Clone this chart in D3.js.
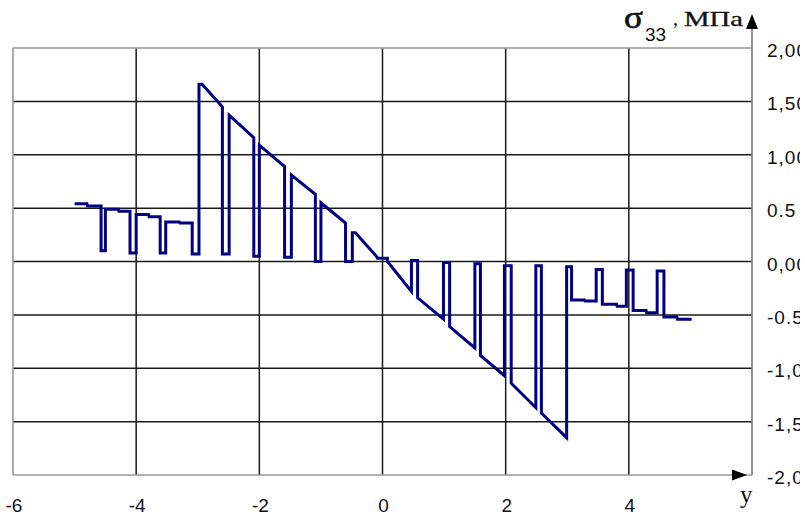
<!DOCTYPE html>
<html>
<head>
<meta charset="utf-8">
<script src="https://cdn.jsdelivr.net/npm/d3@7"></script>
<style>
  html, body { margin: 0; padding: 0; background: #fff; }
  svg { display: block; }
</style>
</head>
<body>
<svg id="chart" width="805" height="516"></svg>
<script>
// ---- data ----
const xTicks = [-6, -4, -2, 0, 2, 4];
const xTickLabels = ["-6", "-4", "-2", "0", "2", "4"];
const yTicks = [2, 1.5, 1, 0.5, 0, -0.5, -1, -1.5, -2];
const yTickLabels = ["2,00", "1,50", "1,00", "0.5", "0,00", "-0.5", "-1,00", "-1,50", "-2,00"];

const yCoord = [
  -5.00, -4.80, -4.79, -4.57,
  -4.57, -4.50, -4.50, -4.29, -4.28, -4.10,
  -4.10, -4.00, -4.00, -3.80, -3.79, -3.61,
  -3.61, -3.52, -3.52, -3.30, -3.29, -3.09,
  -3.09, -2.98, -2.98, -2.93, -2.60,
  -2.60, -2.49, -2.49, -2.09,
  -2.09, -2.00, -2.00, -1.59,
  -1.59, -1.48, -1.48, -1.09,
  -1.09, -1.00, -1.00, -0.60,
  -0.60, -0.49, -0.49, -0.44, -0.10,
  -0.08, 0.08, 0.08, 0.47,
  0.47, 0.57, 0.57, 0.99,
  0.99, 1.09, 1.09, 1.50,
  1.50, 1.59, 1.59, 1.98,
  1.98, 2.09, 2.09, 2.49,
  2.49, 2.58, 2.58, 2.99,
  2.99, 3.07, 3.07, 3.28, 3.29, 3.47,
  3.47, 3.57, 3.57, 3.80, 3.81, 3.96,
  3.96, 4.07, 4.07, 4.28, 4.29, 4.46,
  4.46, 4.57, 4.57, 4.78, 4.79, 5.02
];
const sigma33 = [
  0.54, 0.54, 0.52, 0.52,
  0.10, 0.10, 0.49, 0.49, 0.47, 0.47,
  0.08, 0.08, 0.44, 0.44, 0.42, 0.42,
  0.08, 0.08, 0.37, 0.37, 0.36, 0.36,
  0.07, 0.07, 1.66, 1.66, 1.45,
  0.07, 0.07, 1.37, 1.16,
  0.05, 0.05, 1.09, 0.89,
  0.04, 0.04, 0.81, 0.63,
  0.00, 0.00, 0.55, 0.36,
  0.00, 0.00, 0.27, 0.27, 0.05,
  0.03, 0.03, 0.00, -0.28,
  0.01, 0.01, -0.34, -0.54,
  -0.01, -0.01, -0.61, -0.81,
  -0.02, -0.02, -0.88, -1.07,
  -0.04, -0.04, -1.14, -1.37,
  -0.04, -0.04, -1.42, -1.65,
  -0.05, -0.05, -0.36, -0.36, -0.37, -0.37,
  -0.075, -0.075, -0.40, -0.40, -0.42, -0.42,
  -0.08, -0.08, -0.46, -0.46, -0.48, -0.48,
  -0.09, -0.09, -0.52, -0.52, -0.54, -0.54
];

// ---- drawing ----
const svg = d3.select("#chart");
const x = d3.scaleLinear().domain([-6, 6]).range([13, 752]);
const y = d3.scaleLinear().domain([-2, 2]).range([475, 48]);

const gridColor = "#1a1a1a";
const borderColor = "#999";

// inner vertical grid lines
svg.append("g").selectAll("line")
  .data(xTicks.filter(d => d !== -6))
  .join("line")
  .attr("x1", d => x(d)).attr("x2", d => x(d))
  .attr("y1", y(2)).attr("y2", y(-2))
  .attr("stroke", gridColor).attr("stroke-width", 1.5);

// inner horizontal grid lines
svg.append("g").selectAll("line")
  .data(yTicks.filter(d => d !== 2 && d !== -2))
  .join("line")
  .attr("x1", x(-6)).attr("x2", x(6))
  .attr("y1", d => y(d)).attr("y2", d => y(d))
  .attr("stroke", gridColor).attr("stroke-width", 1.5);

// border lines (top, left, bottom)
svg.append("line").attr("x1", x(-6)).attr("x2", x(6)).attr("y1", y(2)).attr("y2", y(2))
  .attr("stroke", borderColor).attr("stroke-width", 1.6);
svg.append("line").attr("x1", x(-6)).attr("x2", x(-6)).attr("y1", y(2)).attr("y2", y(-2))
  .attr("stroke", borderColor).attr("stroke-width", 1.6);
svg.append("line").attr("x1", x(-6)).attr("x2", x(6)).attr("y1", y(-2)).attr("y2", y(-2))
  .attr("stroke", borderColor).attr("stroke-width", 1.6);
// right vertical axis extending upward
svg.append("line").attr("x1", x(6)).attr("x2", x(6)).attr("y1", y(-2)).attr("y2", 24)
  .attr("stroke", "#777").attr("stroke-width", 1.6);

// arrowheads
const xr = x(6);
svg.append("path")
  .attr("d", `M${xr},14 L${xr - 6},29 L${xr + 6},29 Z`)
  .attr("fill", "#000");
const yb = y(-2);
svg.append("path")
  .attr("d", `M${xr - 5},${yb} L${xr - 20},${yb - 5.5} L${xr - 20},${yb + 5.5} Z`)
  .attr("fill", "#000");

// data line
const line = d3.line()
  .x((d, i) => x(yCoord[i]))
  .y((d, i) => y(sigma33[i]));
svg.append("path")
  .datum(sigma33)
  .attr("d", line)
  .attr("fill", "none")
  .attr("stroke", "#000080")
  .attr("stroke-width", 3)
  .attr("stroke-linejoin", "miter")
  .attr("stroke-miterlimit", 4);

// x tick labels
svg.append("g").selectAll("text")
  .data(xTicks)
  .join("text")
  .attr("x", d => x(d) + 1)
  .attr("y", 512)
  .attr("text-anchor", "middle")
  .attr("font-family", "Liberation Sans, Arial, sans-serif")
  .attr("font-size", 19)
  .attr("fill", "#111")
  .text((d, i) => xTickLabels[i]);

// y tick labels (clipped at right like the original)
svg.append("clipPath").attr("id", "lblclip")
  .append("rect").attr("x", 740).attr("y", 0).attr("width", 60).attr("height", 516);
svg.append("g").attr("clip-path", "url(#lblclip)")
  .selectAll("text")
  .data(yTicks)
  .join("text")
  .attr("x", 767)
  .attr("y", d => y(d) + 9)
  .attr("font-family", "Liberation Sans, Arial, sans-serif")
  .attr("font-size", 19)
  .attr("letter-spacing", 1)
  .attr("fill", "#111")
  .text((d, i) => yTickLabels[i]);

// title  σ33, МПа
const title = svg.append("g").attr("fill", "#111");
title.append("text").attr("x", 624).attr("y", 28)
  .attr("font-family", "Liberation Serif, Times New Roman, serif")
  .attr("font-size", 32)
  .attr("stroke", "#111").attr("stroke-width", 0.7)
  .attr("textLength", 19)
  .attr("lengthAdjust", "spacingAndGlyphs")
  .text("σ");
title.append("text").attr("x", 645).attr("y", 41)
  .attr("font-family", "Liberation Sans, Arial, sans-serif")
  .attr("font-size", 19)
  .text("33");
title.append("text").attr("x", 673).attr("y", 25)
  .attr("font-family", "Liberation Serif, Times New Roman, serif")
  .attr("font-size", 20)
  .text(",");
title.append("text").attr("x", 684).attr("y", 26)
  .attr("font-family", "Liberation Serif, Times New Roman, serif")
  .attr("font-size", 21)
  .attr("stroke", "#111").attr("stroke-width", 0.3)
  .attr("textLength", 59)
  .attr("lengthAdjust", "spacingAndGlyphs")
  .text("МПа");

// x axis name
svg.append("text").attr("x", 740).attr("y", 503)
  .attr("font-family", "Liberation Serif, Times New Roman, serif")
  .attr("font-size", 25)
  .attr("fill", "#111")
  .text("y");
</script>
</body>
</html>
